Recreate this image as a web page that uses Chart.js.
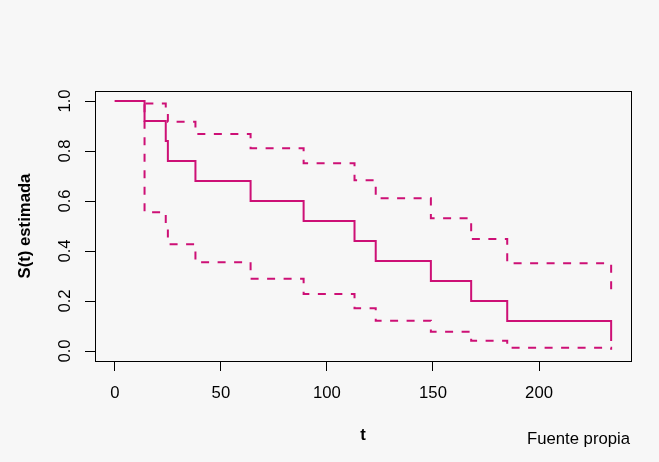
<!DOCTYPE html>
<html>
<head>
<meta charset="utf-8">
<script src="https://cdn.jsdelivr.net/npm/chart.js@4/dist/chart.umd.min.js"></script>
<style>
  html, body { margin: 0; padding: 0; background: #f7f7f7; }
  canvas { display: block; }
</style>
</head>
<body>
<canvas id="km" width="659" height="462"></canvas>
<script>
// Kaplan-Meier estimate with confidence bands
const tiempos = [0, 14, 24, 25, 38, 64, 89, 113, 123, 149, 168, 185, 234];
const superv = [1, 0.92, 0.84, 0.76, 0.68, 0.60, 0.52, 0.44, 0.36, 0.28, 0.20, 0.12, 0.04];
const icSup = [1, 0.99, 0.955, 0.917, 0.868, 0.811, 0.751, 0.683, 0.611, 0.531, 0.448, 0.351, 0.244];
const icInf = [1, 0.555, 0.49, 0.427, 0.355, 0.289, 0.228, 0.171, 0.121, 0.077, 0.041, 0.013, 0.005];

const xTicks = [0, 50, 100, 150, 200];
const yTicks = [0, 0.2, 0.4, 0.6, 0.8, 1.0];
const yTickLabels = ['0.0', '0.2', '0.4', '0.6', '0.8', '1.0'];

const COLOR = '#cd1076';
const FONT = '"Liberation Sans", Arial, sans-serif';
const FS = 16.7;

const toPts = ys => tiempos.map((t, i) => ({ x: t, y: ys[i] }));

// R-style 4% axis extension
const tMax = Math.max(...tiempos), tMin = Math.min(...tiempos);
const ext = (tMax - tMin) * 0.04;

const rPlot = {
  id: 'rPlot',
  beforeDraw(chart) {
    const ctx = chart.ctx;
    ctx.save();
    ctx.fillStyle = '#f7f7f7';
    ctx.fillRect(0, 0, chart.width, chart.height);
    ctx.restore();
  },
  afterDraw(chart) {
    const { ctx, chartArea: a, scales } = chart;
    ctx.save();
    // box
    ctx.strokeStyle = '#000';
    ctx.lineWidth = 1;
    ctx.strokeRect(Math.round(a.left) + 0.5, Math.round(a.top) + 0.5,
      Math.round(a.right - a.left), Math.round(a.bottom - a.top));

    ctx.fillStyle = '#000';
    // x tick labels
    ctx.font = FS + 'px ' + FONT;
    ctx.textAlign = 'center';
    ctx.textBaseline = 'alphabetic';
    xTicks.forEach(v => {
      ctx.fillText(String(v), scales.x.getPixelForValue(v), 398);
    });
    // y tick labels (rotated)
    yTicks.forEach((v, i) => {
      ctx.save();
      ctx.translate(70, scales.y.getPixelForValue(v));
      ctx.rotate(-Math.PI / 2);
      ctx.fillText(yTickLabels[i], 0, 0);
      ctx.restore();
    });
    // axis titles
    ctx.font = 'bold ' + FS + 'px ' + FONT;
    ctx.fillText('t', (a.left + a.right) / 2, 440);
    ctx.save();
    ctx.translate(30, (a.top + a.bottom) / 2);
    ctx.rotate(-Math.PI / 2);
    ctx.fillText('S(t) estimada', 0, 0);
    ctx.restore();
    // source note
    ctx.font = FS + 'px ' + FONT;
    ctx.textAlign = 'right';
    ctx.fillText('Fuente propia', 630, 444);
    ctx.restore();
  }
};

const lineBase = {
  borderColor: COLOR,
  borderWidth: 2,
  pointRadius: 0,
  stepped: 'before',
  fill: false,
  borderCapStyle: 'butt'
};

new Chart(document.getElementById('km'), {
  type: 'line',
  data: {
    datasets: [
      { ...lineBase, label: 'S(t)', data: toPts(superv) },
      { ...lineBase, label: 'IC sup', data: toPts(icSup), borderDash: [8, 8.5] },
      { ...lineBase, label: 'IC inf', data: toPts(icInf), borderDash: [8, 8.5] }
    ]
  },
  options: {
    responsive: false,
    animation: false,
    layout: { padding: { left: 0, top: 91, right: 28, bottom: 0 } },
    plugins: { legend: { display: false }, tooltip: { enabled: false } },
    scales: {
      x: {
        type: 'linear',
        min: tMin - ext,
        max: tMax + ext,
        afterBuildTicks: s => { s.ticks = xTicks.map(v => ({ value: v })); },
        afterFit: s => { s.height = 101; },
        ticks: { display: false },
        grid: { drawOnChartArea: false, drawTicks: true, tickLength: 10, color: '#000', lineWidth: 1 },
        border: { display: false }
      },
      y: {
        min: -0.04,
        max: 1.04,
        afterBuildTicks: s => { s.ticks = yTicks.map(v => ({ value: v })); },
        afterFit: s => { s.width = 95; },
        ticks: { display: false },
        grid: { drawOnChartArea: false, drawTicks: true, tickLength: 10, color: '#000', lineWidth: 1 },
        border: { display: false }
      }
    }
  },
  plugins: [rPlot]
});
</script>
</body>
</html>
